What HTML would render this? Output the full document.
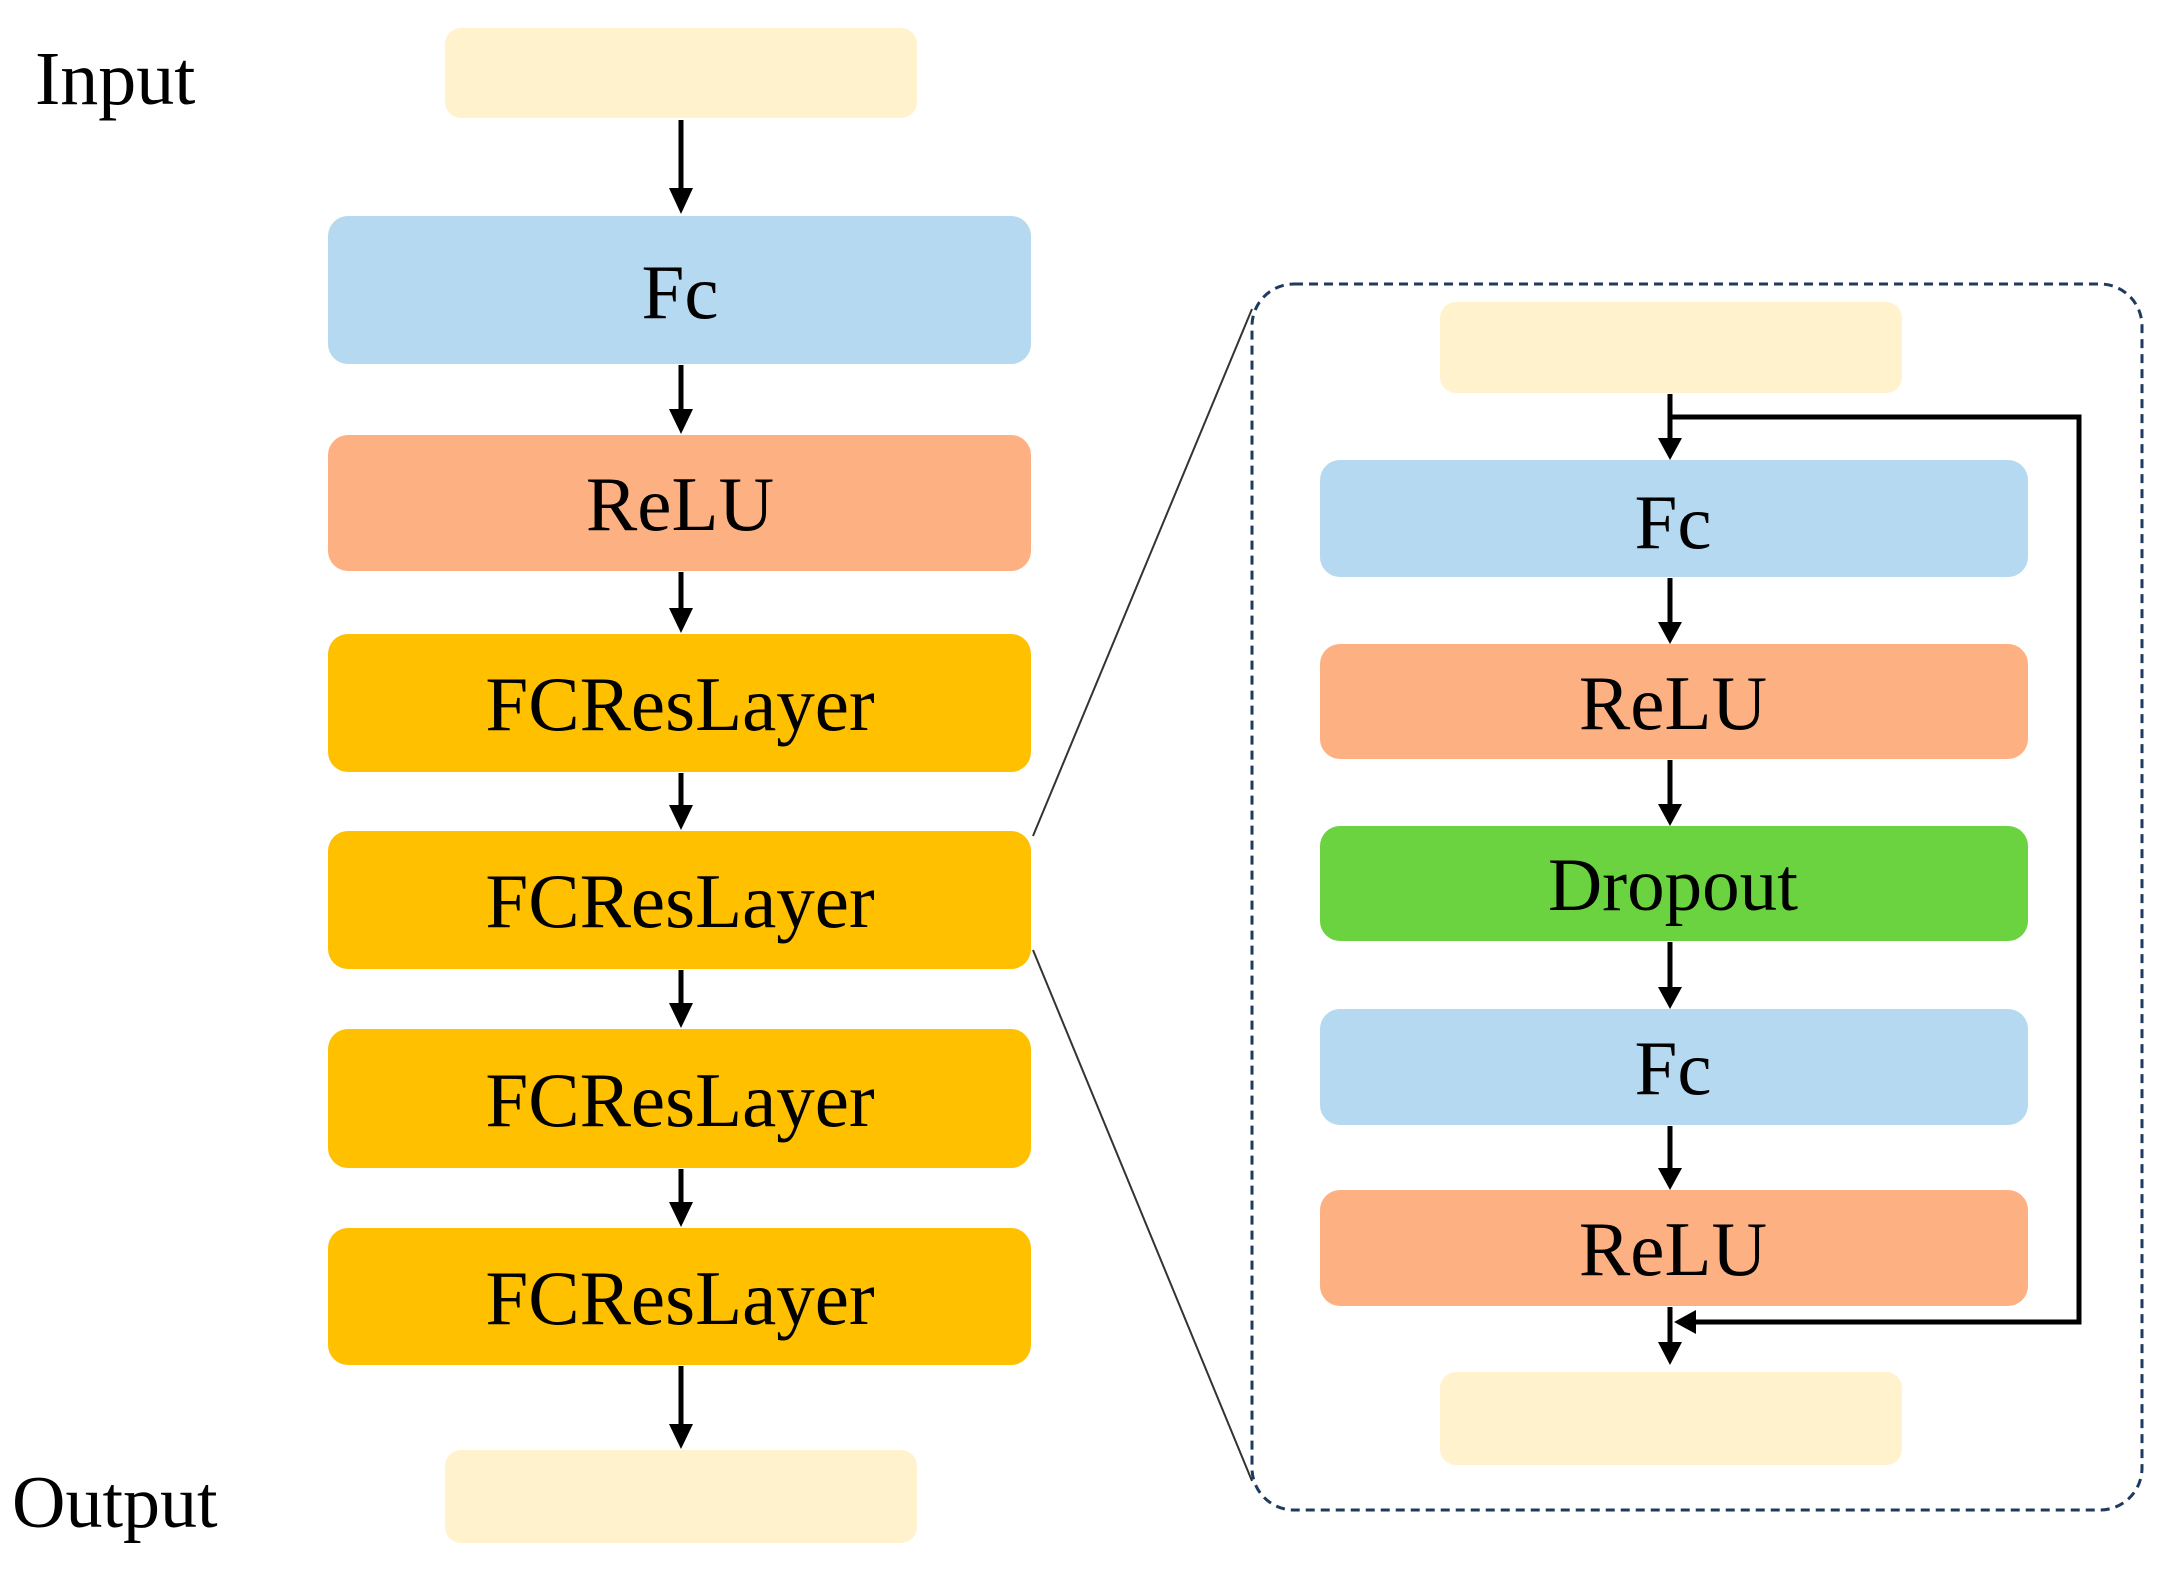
<!DOCTYPE html>
<html><head><meta charset="utf-8"><style>
html,body{margin:0;padding:0;background:#fff;}
svg{display:block;}
text{font-family:"Liberation Serif",serif;fill:#000;}
</style></head><body>
<svg width="2169" height="1569" viewBox="0 0 2169 1569" xmlns="http://www.w3.org/2000/svg">
<text x="35" y="104" font-size="76">Input</text>
<text x="12" y="1527" font-size="74">Output</text>

<rect x="445" y="28" width="472" height="90" rx="16" fill="#FFF2CC"/>
<rect x="328" y="216" width="703" height="148" rx="20" fill="#B4D9F0"/>
<rect x="328" y="435" width="703" height="136" rx="20" fill="#FDB183"/>
<rect x="328" y="634" width="703" height="138" rx="20" fill="#FFC000"/>
<rect x="328" y="831" width="703" height="138" rx="20" fill="#FFC000"/>
<rect x="328" y="1029" width="703" height="139" rx="20" fill="#FFC000"/>
<rect x="328" y="1228" width="703" height="137" rx="20" fill="#FFC000"/>
<rect x="445" y="1450" width="472" height="93" rx="16" fill="#FFF2CC"/>

<g text-anchor="middle" font-size="77">
<text x="680" y="318">Fc</text>
<text x="680" y="530">ReLU</text>
<text x="680" y="730">FCResLayer</text>
<text x="680" y="927">FCResLayer</text>
<text x="680" y="1126">FCResLayer</text>
<text x="680" y="1324">FCResLayer</text>
</g>

<g stroke="#000" stroke-width="5">
<line x1="681" y1="120" x2="681" y2="190"/>
<line x1="681" y1="365" x2="681" y2="410"/>
<line x1="681" y1="572" x2="681" y2="610"/>
<line x1="681" y1="773" x2="681" y2="807"/>
<line x1="681" y1="970" x2="681" y2="1005"/>
<line x1="681" y1="1169" x2="681" y2="1204"/>
<line x1="681" y1="1366" x2="681" y2="1425"/>
</g>
<g fill="#000">
<polygon points="669,188 693,188 681,214"/>
<polygon points="669,409 693,409 681,434"/>
<polygon points="669,608 693,608 681,633"/>
<polygon points="669,805 693,805 681,830"/>
<polygon points="669,1003 693,1003 681,1028"/>
<polygon points="669,1202 693,1202 681,1227"/>
<polygon points="669,1424 693,1424 681,1449"/>
</g>

<line x1="1033" y1="836" x2="1252" y2="309" stroke="#333" stroke-width="2"/>
<line x1="1033" y1="950" x2="1252" y2="1481" stroke="#333" stroke-width="2"/>

<rect x="1252" y="284" width="890" height="1226" rx="42" fill="none" stroke="#1F3A5F" stroke-width="3" stroke-dasharray="9,6"/>

<rect x="1440" y="302" width="462" height="91" rx="16" fill="#FFF2CC"/>
<rect x="1320" y="460" width="708" height="117" rx="20" fill="#B4D9F0"/>
<rect x="1320" y="644" width="708" height="115" rx="20" fill="#FDB183"/>
<rect x="1320" y="826" width="708" height="115" rx="20" fill="#6BD240"/>
<rect x="1320" y="1009" width="708" height="116" rx="20" fill="#B4D9F0"/>
<rect x="1320" y="1190" width="708" height="116" rx="20" fill="#FDB183"/>
<rect x="1440" y="1372" width="462" height="93" rx="16" fill="#FFF2CC"/>

<g text-anchor="middle" font-size="77">
<text x="1673" y="548">Fc</text>
<text x="1673" y="729">ReLU</text>
<text x="1673" y="910" font-size="75">Dropout</text>
<text x="1673" y="1094">Fc</text>
<text x="1673" y="1275">ReLU</text>
</g>

<g stroke="#000" stroke-width="5" fill="none">
<line x1="1670" y1="394" x2="1670" y2="440"/>
<polyline points="1670,417 2079,417 2079,1322 1690,1322"/>
<line x1="1670" y1="578" x2="1670" y2="624"/>
<line x1="1670" y1="760" x2="1670" y2="806"/>
<line x1="1670" y1="942" x2="1670" y2="989"/>
<line x1="1670" y1="1126" x2="1670" y2="1170"/>
<line x1="1670" y1="1307" x2="1670" y2="1350"/>
</g>
<g fill="#000">
<polygon points="1658,438 1682,438 1670,460"/>
<polygon points="1658,622 1682,622 1670,644"/>
<polygon points="1658,804 1682,804 1670,826"/>
<polygon points="1658,987 1682,987 1670,1009"/>
<polygon points="1658,1168 1682,1168 1670,1190"/>
<polygon points="1658,1342 1682,1342 1670,1365"/>
<polygon points="1674,1322 1696,1310 1696,1334"/>
</g>
</svg>
</body></html>
